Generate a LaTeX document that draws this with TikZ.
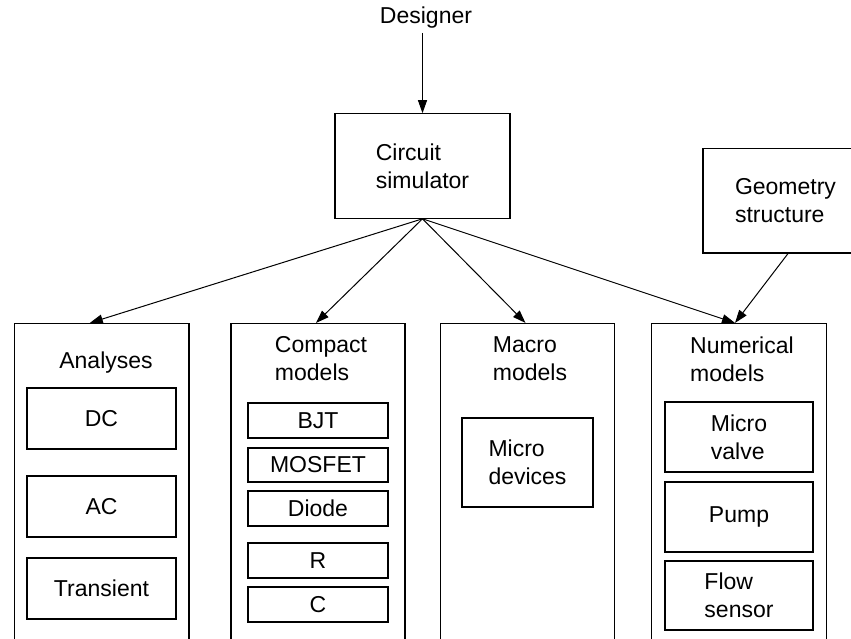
\documentclass[tikz,border=0pt]{standalone}
\usepackage{fontspec}
\setmainfont{Liberation Sans}
\usetikzlibrary{arrows.meta}
\begin{document}
\begin{tikzpicture}[x=1pt,y=-1pt,
  every node/.style={font=\fontsize{23}{28}\selectfont},
  box/.style={draw, line width=1.1pt, rectangle, inner sep=0pt, align=left},
  lbl/.style={inner sep=0pt, align=left},
  arr/.style={line width=1pt, -{Triangle[length=13pt,width=9pt]}}]
\useasboundingbox (0,0) rectangle (851,638);
\clip (0,0) rectangle (851,638);
% top
\node[lbl, inner sep=4pt] (designer) at (426,18) {Designer};
\node[box, minimum width=175pt, minimum height=104.5pt] (circ) at (422.5,166) {Circuit\\simulator};
\node[box, minimum width=165pt, minimum height=104.5pt] (geo) at (785.5,200.75) {Geometry\\structure};
% outer boxes
\node[box, minimum width=174.4pt, minimum height=327pt] (ana) at (101.8,487) {};
\node[box, minimum width=174pt, minimum height=327pt] (comp) at (318,487) {};
\node[box, minimum width=174pt, minimum height=327pt] (macro) at (527.5,487) {};
\node[box, minimum width=175pt, minimum height=327pt] (num) at (739,487) {};
% titles
\node[lbl] (anaT) at (106,363) {Analyses};
\node[lbl] (compT) at (321,359) {Compact\\models};
\node[lbl] (macroT) at (530,359) {Macro\\models};
\node[lbl] (numT) at (742,359) {Numerical\\models};
% analyses
\node[box, minimum width=149pt, minimum height=61pt] (dc) at (101.5,418.5) {DC};
\node[box, minimum width=149pt, minimum height=61pt] (ac) at (101.5,506.5) {AC};
\node[box, minimum width=149pt, minimum height=61pt] (tr) at (101.5,588.5) {Transient};
% compact
\node[box, minimum width=140pt, minimum height=35pt] (bjt) at (318,420.5) {BJT};
\node[box, minimum width=140pt, minimum height=34pt] (mos) at (318,465) {MOSFET};
\node[box, minimum width=140pt, minimum height=35pt] (diode) at (318,508.5) {Diode};
\node[box, minimum width=140pt, minimum height=35pt] (res) at (318,560.5) {R};
\node[box, minimum width=140pt, minimum height=35pt] (cap) at (318,604.5) {C};
% macro
\node[box, minimum width=131pt, minimum height=89pt] (mdev) at (527.5,462.5) {Micro\\devices};
% numerical
\node[box, minimum width=148pt, minimum height=70pt] (valve) at (739,437) {Micro\\valve};
\node[box, minimum width=148pt, minimum height=70pt] (pump) at (739,517) {Pump};
\node[box, minimum width=148pt, minimum height=69pt] (flow) at (739,595.5) {Flow\\sensor};
% connectors
\draw[arr] (designer.south -| circ.north) -- (circ.north);
\draw[arr] (circ.south) -- ([xshift=-12pt]ana.north);
\draw[arr] (circ.south) -- ([xshift=-2pt]comp.north);
\draw[arr] (circ.south) -- ([xshift=-2pt]macro.north);
\draw[arr] (circ.south) -- ([xshift=-4pt]num.north);
\draw[arr] ([xshift=2.5pt]geo.south) -- ([xshift=-4pt]num.north);
\end{tikzpicture}
\end{document}
